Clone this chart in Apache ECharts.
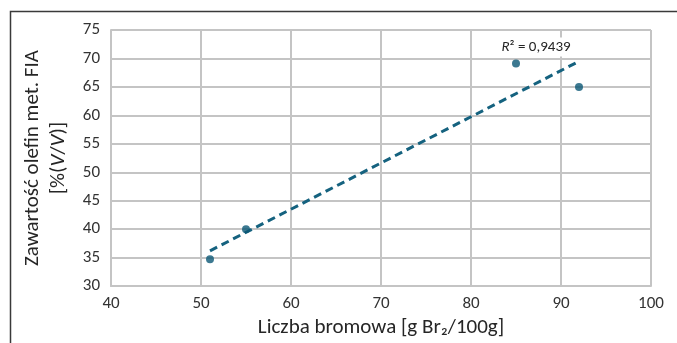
<!DOCTYPE html>
<html>
<head>
<meta charset="utf-8">
<script src="https://cdn.jsdelivr.net/npm/echarts@6/dist/echarts.min.js"></script>
<style>html,body{margin:0;padding:0;background:#fff}#c{width:677px;height:343px}</style>
</head>
<body>
<div id="c"></div>
<script>
// Data
const xValues = [51, 55, 85, 92];
const yValues = [34.7, 40.0, 69.1, 65.0];
const trendX = [51, 92];
const trendY = [36.2, 69.5];
const rSquaredText = '0,9439';
const xTicks = [40, 50, 60, 70, 80, 90, 100];
const yTicks = [30, 35, 40, 45, 50, 55, 60, 65, 70, 75];

const FONT = "Carlito, 'Liberation Sans', 'DejaVu Sans', sans-serif";
const gridColor = '#c4c4c4';
const pts = xValues.map((x, i) => [x, yValues[i]]);
const trend = trendX.map((x, i) => [x, trendY[i]]);

const chart = echarts.init(document.getElementById('c'), null, {renderer: 'canvas'});
chart.setOption({
  animation: false,
  backgroundColor: '#ffffff',
  grid: {left: 111, right: 26, top: 30, bottom: 56, containLabel: false},
  xAxis: {
    type: 'value',
    min: xTicks[0], max: xTicks[xTicks.length - 1], interval: 10,
    axisLine: {show: true, lineStyle: {color: gridColor, width: 2}},
    axisTick: {show: false},
    splitLine: {show: true, showMinLine: true, showMaxLine: true, lineStyle: {color: gridColor, width: 2}},
    axisLabel: {fontFamily: FONT, fontSize: 17, color: '#333333', margin: 9},
    name: 'Liczba bromowa [g Br₂/100g]',
    nameLocation: 'middle', nameGap: 27,
    nameTextStyle: {fontFamily: FONT, fontSize: 21, color: '#262626'}
  },
  yAxis: {
    type: 'value',
    min: yTicks[0], max: yTicks[yTicks.length - 1], interval: 5,
    axisLine: {show: true, lineStyle: {color: gridColor, width: 2}},
    axisTick: {show: false},
    splitLine: {show: true, showMinLine: true, showMaxLine: true, lineStyle: {color: gridColor, width: 2}},
    axisLabel: {fontFamily: FONT, fontSize: 17, color: '#333333', margin: 11},
    name: 'Zawartość olefin met. FIA\n[%({i|V}/{i|V})]',
    nameLocation: 'middle', nameGap: 35, nameRotate: 90,
    nameTextStyle: {
      fontFamily: FONT, fontSize: 21, color: '#262626', lineHeight: 26, align: 'center',
      rich: {i: {fontFamily: FONT, fontSize: 21, fontStyle: 'italic', color: '#262626', lineHeight: 26}}
    }
  },
  series: [
    {
      type: 'line', data: trend, showSymbol: false, symbol: 'none',
      lineStyle: {color: '#15627f', width: 3, type: [8, 5]},
      z: 2
    },
    {
      type: 'scatter', data: pts, symbol: 'circle', symbolSize: 8,
      itemStyle: {color: '#0b5775'},
      z: 3
    }
  ],
  graphic: [
    {
      type: 'rect', shape: {x: 10.5, y: 11.5, width: 700, height: 400},
      style: {fill: 'none', stroke: '#3a3a3a', lineWidth: 1.5}, silent: true
    },
    {
      type: 'text', x: 536, y: 47, z: 10,
      style: {
        text: '{i|R}{n|² = ' + rSquaredText + '}',
        align: 'center', verticalAlign: 'middle',
        backgroundColor: '#ffffff', padding: [2, 1, 2, 1],
        rich: {
          i: {fontFamily: FONT, fontSize: 15, fontStyle: 'italic', fill: '#262626'},
          n: {fontFamily: FONT, fontSize: 15, fill: '#262626'}
        }
      }
    }
  ]
});
</script>
</body>
</html>
